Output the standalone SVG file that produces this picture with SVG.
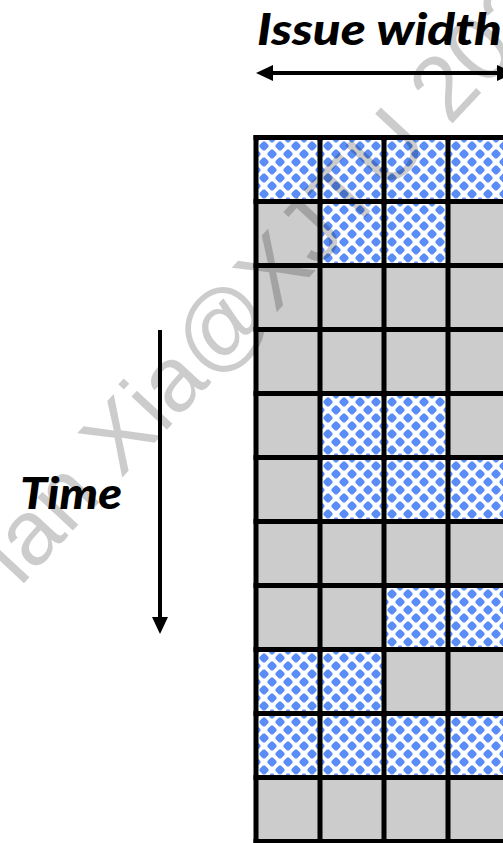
<svg xmlns="http://www.w3.org/2000/svg" width="503" height="843" viewBox="0 0 503 843">
<style>
.lbl{font-family:Lato,"Open Sans","Liberation Sans",sans-serif;font-weight:900;font-style:italic;font-size:44px;fill:#000}
.g{fill:#cccccc}
.b{fill:url(#dots)}
.grid line{stroke:#000;stroke-width:5}
.conn line{stroke:#000;stroke-width:4}
.wm{font-family:"Liberation Sans",Arial,sans-serif;font-size:92px;fill:#000;fill-opacity:0.2}
</style>
<defs>
<polygon id="dm" points="-1,-4.5 1,-4.5 4.5,-1 4.5,1 1,4.5 -1,4.5 -4.5,1 -4.5,-1" fill="#5B8DF7"/>
<pattern id="dots" patternUnits="userSpaceOnUse" x="0" y="0" width="16" height="16">
<rect width="16" height="16" fill="#fff"/>
<use href="#dm" x="8" y="2"/>
<use href="#dm" x="8" y="18"/>
<use href="#dm" x="0" y="10"/>
<use href="#dm" x="16" y="10"/>
</pattern>
<marker id="ah" viewBox="0 0 17 16" refX="0" refY="8" markerWidth="17" markerHeight="16" markerUnits="userSpaceOnUse" orient="auto-start-reverse">
<path d="M0,0 L17,8 L0,16 z" fill="#000"/>
</marker>
</defs>
<rect width="503" height="843" fill="#fff"/>
<g id="cells">
<g id="cycle-0"><rect class="b" x="256" y="137.5" width="64" height="64"/><rect class="b" x="320" y="137.5" width="64" height="64"/><rect class="b" x="384" y="137.5" width="64" height="64"/><rect class="b" x="448" y="137.5" width="64" height="64"/></g>
<g id="cycle-1"><rect class="g" x="256" y="201.5" width="64" height="64"/><rect class="b" x="320" y="201.5" width="64" height="64"/><rect class="b" x="384" y="201.5" width="64" height="64"/><rect class="g" x="448" y="201.5" width="64" height="64"/></g>
<g id="cycle-2"><rect class="g" x="256" y="265.5" width="256" height="64"/></g>
<g id="cycle-3"><rect class="g" x="256" y="329.5" width="256" height="64"/></g>
<g id="cycle-4"><rect class="g" x="256" y="393.5" width="64" height="64"/><rect class="b" x="320" y="393.5" width="64" height="64"/><rect class="b" x="384" y="393.5" width="64" height="64"/><rect class="g" x="448" y="393.5" width="64" height="64"/></g>
<g id="cycle-5"><rect class="g" x="256" y="457.5" width="64" height="64"/><rect class="b" x="320" y="457.5" width="64" height="64"/><rect class="b" x="384" y="457.5" width="64" height="64"/><rect class="b" x="448" y="457.5" width="64" height="64"/></g>
<g id="cycle-6"><rect class="g" x="256" y="521.5" width="256" height="64"/></g>
<g id="cycle-7"><rect class="g" x="256" y="585.5" width="64" height="64"/><rect class="g" x="320" y="585.5" width="64" height="64"/><rect class="b" x="384" y="585.5" width="64" height="64"/><rect class="b" x="448" y="585.5" width="64" height="64"/></g>
<g id="cycle-8"><rect class="b" x="256" y="649.5" width="64" height="64"/><rect class="b" x="320" y="649.5" width="64" height="64"/><rect class="g" x="384" y="649.5" width="64" height="64"/><rect class="g" x="448" y="649.5" width="64" height="64"/></g>
<g id="cycle-9"><rect class="b" x="256" y="713.5" width="64" height="64"/><rect class="b" x="320" y="713.5" width="64" height="64"/><rect class="b" x="384" y="713.5" width="64" height="64"/><rect class="b" x="448" y="713.5" width="64" height="64"/></g>
<g id="cycle-10"><rect class="g" x="256" y="777.5" width="256" height="64"/></g>
</g>
<g id="grid" class="grid">
<line x1="256" y1="135" x2="256" y2="844"/>
<line x1="320" y1="135" x2="320" y2="844"/>
<line x1="384" y1="135" x2="384" y2="844"/>
<line x1="448" y1="135" x2="448" y2="844"/>
<line x1="512" y1="135" x2="512" y2="844"/>
<line x1="253.5" y1="137.5" x2="514.5" y2="137.5"/>
<line x1="253.5" y1="201.5" x2="514.5" y2="201.5"/>
<line x1="253.5" y1="265.5" x2="514.5" y2="265.5"/>
<line x1="253.5" y1="329.5" x2="514.5" y2="329.5"/>
<line x1="253.5" y1="393.5" x2="514.5" y2="393.5"/>
<line x1="253.5" y1="457.5" x2="514.5" y2="457.5"/>
<line x1="253.5" y1="521.5" x2="514.5" y2="521.5"/>
<line x1="253.5" y1="585.5" x2="514.5" y2="585.5"/>
<line x1="253.5" y1="649.5" x2="514.5" y2="649.5"/>
<line x1="253.5" y1="713.5" x2="514.5" y2="713.5"/>
<line x1="253.5" y1="777.5" x2="514.5" y2="777.5"/>
<line x1="253.5" y1="841.5" x2="514.5" y2="841.5"/>
</g>
<g id="connectors" class="conn">
<line x1="273" y1="73" x2="497" y2="73" marker-start="url(#ah)" marker-end="url(#ah)"/>
<line x1="160" y1="330" x2="160" y2="617" marker-end="url(#ah)"/>
</g>
<g id="labels">
<text class="lbl" x="257" y="45" textLength="245" lengthAdjust="spacingAndGlyphs">Issue width</text>
<text class="lbl" x="20" y="509" textLength="102" lengthAdjust="spacingAndGlyphs">Time</text>
</g>
<g id="watermark">
<text class="wm" transform="translate(122,478) rotate(-47)" x="-150" y="0">ian Xia@XJTU 2020</text>
</g>
</svg>
